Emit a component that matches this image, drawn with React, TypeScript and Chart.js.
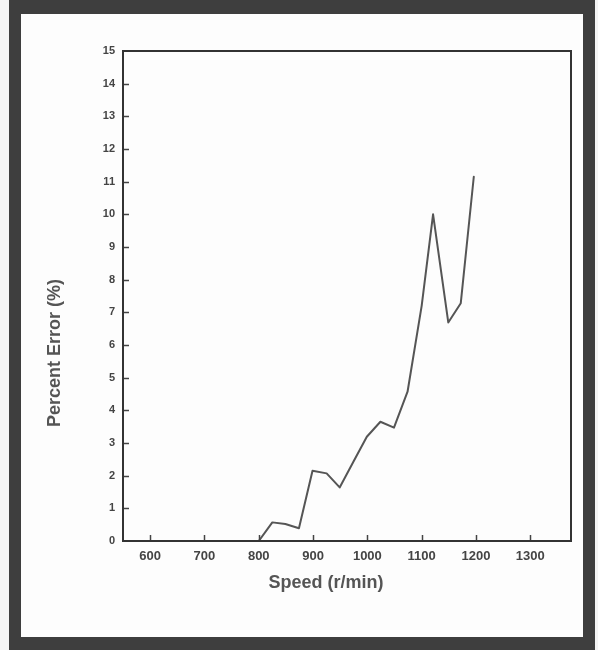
import React, { useEffect, useRef } from "react";
import { Chart, registerables } from "chart.js";

Chart.register(...registerables);

const speeds = [800, 825, 849, 874, 899, 925, 949, 975, 999, 1024, 1049, 1074, 1100, 1121, 1149, 1172, 1196];
const errors = [0.0, 0.57, 0.52, 0.39, 2.15, 2.07, 1.64, 2.45, 3.19, 3.65, 3.47, 4.57, 7.2, 10.0, 6.69, 7.28, 11.15];
const xTicks = [600, 700, 800, 900, 1000, 1100, 1200, 1300];
const yTicks = [0, 1, 2, 3, 4, 5, 6, 7, 8, 9, 10, 11, 12, 13, 14, 15];
const xTitle = "Speed (r/min)";
const yTitle = "Percent Error (%)";

const inwardTicks = {
  id: "inwardTicks",
  afterDatasetsDraw(chart: any) {
    const { ctx, chartArea, scales } = chart;
    ctx.save();
    ctx.strokeStyle = "#444";
    ctx.lineWidth = 1.5;
    for (const v of yTicks) {
      if (v === 0 || v === 15) continue;
      const y = Math.round(scales.y.getPixelForValue(v)) + 0.5;
      ctx.beginPath();
      ctx.moveTo(chartArea.left, y);
      ctx.lineTo(chartArea.left + 6, y);
      ctx.stroke();
    }
    for (const v of xTicks) {
      const x = Math.round(scales.x.getPixelForValue(v)) + 0.5;
      ctx.beginPath();
      ctx.moveTo(x, chartArea.bottom);
      ctx.lineTo(x, chartArea.bottom - 6);
      ctx.stroke();
    }
    ctx.strokeStyle = "#333";
    ctx.lineWidth = 2;
    ctx.strokeRect(chartArea.left, chartArea.top, chartArea.right - chartArea.left, chartArea.bottom - chartArea.top);
    ctx.fillStyle = "#555";
    ctx.font = "bold 18px 'Liberation Sans', Arial, sans-serif";
    ctx.textAlign = "center";
    ctx.textBaseline = "middle";
    ctx.fillText(xTitle, 326, 583);
    ctx.translate(55, 353);
    ctx.rotate(-Math.PI / 2);
    ctx.fillText(yTitle, 0, 0);
    ctx.restore();
  },
};

export default function App() {
  const ref = useRef<HTMLCanvasElement | null>(null);
  useEffect(() => {
    if (!ref.current) return;
    const chart = new Chart(ref.current, {
      type: "line",
      data: {
        datasets: [
          {
            data: speeds.map((s, i) => ({ x: s, y: errors[i] })),
            borderColor: "#555",
            borderWidth: 2,
            borderJoinStyle: "round",
            borderCapStyle: "round",
            pointRadius: 0,
            tension: 0,
            fill: false,
          },
        ],
      },
      options: {
        animation: false,
        responsive: false,
        maintainAspectRatio: false,
        layout: { padding: { top: 51, right: 27, left: 0, bottom: 0 } },
        plugins: { legend: { display: false }, tooltip: { enabled: false } },
        scales: {
          x: {
            type: "linear",
            min: 550,
            max: 1375,
            afterBuildTicks: (scale: any) => {
              scale.ticks = xTicks.map((v) => ({ value: v }));
            },
            afterFit: (scale: any) => {
              scale.height = 109;
            },
            grid: { display: false, drawTicks: false },
            border: { display: false },
            ticks: {
              padding: 8,
              color: "#444",
              font: { family: "'Liberation Sans', Arial, sans-serif", size: 13, weight: "bold" },
              maxRotation: 0,
              autoSkip: false,
              callback: (v: any) => String(v),
            },
          },
          y: {
            type: "linear",
            min: 0,
            max: 15,
            afterBuildTicks: (scale: any) => {
              scale.ticks = yTicks.map((v) => ({ value: v }));
            },
            afterFit: (scale: any) => {
              scale.width = 123;
            },
            grid: { display: false, drawTicks: false },
            border: { display: false },
            ticks: {
              padding: 8,
              color: "#444",
              font: { family: "'Liberation Sans', Arial, sans-serif", size: 11, weight: "bold" },
              autoSkip: false,
              callback: (v: any) => String(v),
            },
          },
        },
      },
      plugins: [inwardTicks],
    } as any);
    return () => chart.destroy();
  }, []);

  return (
    <div style={{ position: "absolute", left: 0, top: 0, width: 598, height: 650, background: "#f4f4f4", overflow: "hidden" }}>
      <div
        style={{
          position: "absolute",
          left: 9,
          top: 0,
          width: 586,
          height: 650,
          boxSizing: "border-box",
          borderStyle: "solid",
          borderColor: "#3e3e3e",
          borderWidth: "14px 12px 13px 12px",
          background: "#fdfdfd",
        }}
      />
      <canvas ref={ref} width={598} height={650} style={{ position: "absolute", left: 0, top: 0 }} />
    </div>
  );
}
